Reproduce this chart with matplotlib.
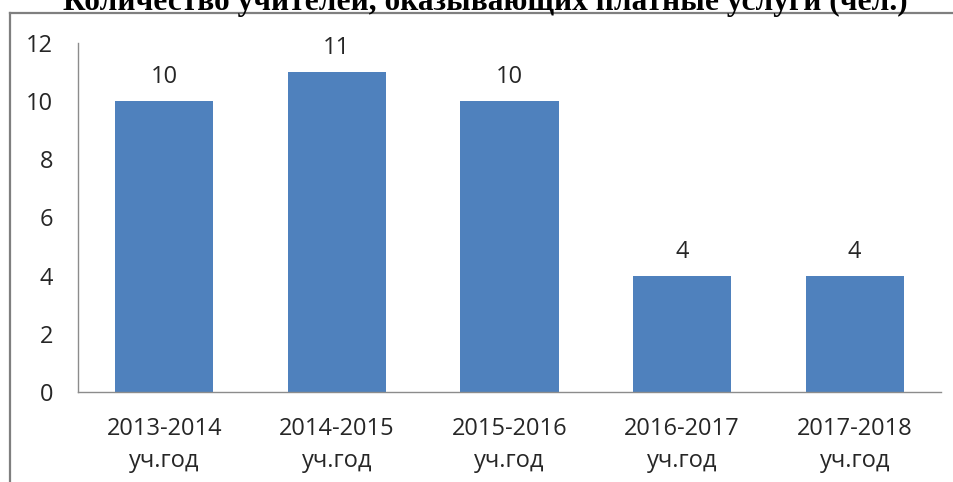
import matplotlib
matplotlib.use("Agg")
import matplotlib.pyplot as plt
from matplotlib.lines import Line2D

categories = ["2013-2014\nуч.год", "2014-2015\nуч.год", "2015-2016\nуч.год",
              "2016-2017\nуч.год", "2017-2018\nуч.год"]
values = [10, 11, 10, 4, 4]
yticks = [0, 2, 4, 6, 8, 10, 12]
title = "Количество учителей, оказывающих платные услуги (чел.)"

W, H = 954, 482
fig = plt.figure(figsize=(W / 100, H / 100), dpi=100)
fig.patch.set_facecolor("white")

ax = fig.add_axes([78 / W, 1 - 392 / H, (941 - 78) / W, (392 - 43) / H])
x = list(range(len(values)))
bars = ax.bar(x, values, width=0.57, color="#4f81bd", zorder=2)
ax.set_xlim(-0.5, len(values) - 0.5)
ax.set_ylim(0, 12)
ax.set_yticks(yticks)
ax.set_xticks(x)
ax.set_xticklabels(categories, linespacing=1.45)

tfont = dict(family="Open Sans", size=17, color="#262626")
for lab in ax.get_xticklabels() + ax.get_yticklabels():
    lab.set_fontfamily("Open Sans")
    lab.set_fontsize(17)
    lab.set_color("#262626")
ax.tick_params(axis="both", length=0)
ax.tick_params(axis="y", pad=18)
ax.tick_params(axis="x", pad=18)

for s in ["top", "right"]:
    ax.spines[s].set_visible(False)
ax.spines["left"].set_color("#8c8c8c")
ax.spines["bottom"].set_color("#8c8c8c")
ax.spines["left"].set_linewidth(1.0)
ax.spines["bottom"].set_linewidth(1.0)

for xi, v in zip(x, values):
    ax.annotate(str(v), (xi, v), xytext=(0, 8.5), textcoords="offset points",
                ha="center", va="bottom", **tfont)

# outer chart frame (top and left edges visible)
fig.add_artist(Line2D([10 / W, 1.01], [1 - 13 / H, 1 - 13 / H], color="#7f7f7f",
                      lw=1.6, transform=fig.transFigure))
fig.add_artist(Line2D([10 / W, 10 / W], [1 - 13 / H, -0.01], color="#7f7f7f",
                      lw=1.6, transform=fig.transFigure))

fig.text(485 / W, 1 - 10 / H, title, ha="center", va="baseline",
         family="Liberation Serif", weight="bold", size=22.6, color="black")

fig.savefig("out.png", dpi=100, facecolor="white")
